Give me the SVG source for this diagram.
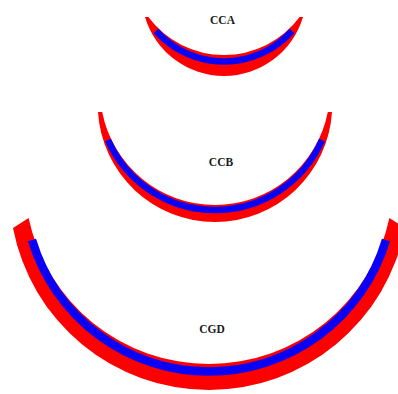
<svg xmlns="http://www.w3.org/2000/svg" width="398" height="394" viewBox="0 0 398 394">
  <style>
    .band { fill: #ff0000; stroke: none; }
    .core { fill: none; stroke: #0a00f5; stroke-linecap: butt; }
    .lbl { font-family: "Liberation Serif", "Times New Roman", serif; font-weight: bold; font-size: 11.5px; fill: #1a1a1a; text-anchor: middle; }
  </style>
  <rect width="398" height="394" fill="#ffffff"/>
  <g id="CCA">
    <path class="band" d="M145,17 A82.4,82.4 0 0 0 224,76 A82.4,82.4 0 0 0 303,17 L299.6,17 A94.2,94.2 0 0 1 224,55 A94.2,94.2 0 0 1 148.4,17 Z"/>
    <path class="core" stroke-width="6.5" d="M156,31 A91.1,91.1 0 0 0 224,61.5 A91.1,91.1 0 0 0 292,31"/>
    <text class="lbl" x="222.5" y="23.5">CCA</text>
  </g>
  <g id="CCB">
    <path class="band" d="M98,112 A117.2,117.2 0 0 0 215,222 A117.2,117.2 0 0 0 332,112 L327.8,112 A115.1,115.1 0 0 1 215,205 A115.1,115.1 0 0 1 102.2,112 Z"/>
    <path class="core" stroke-width="6.5" d="M108,140 A116.8,116.8 0 0 0 215,210 A116.8,116.8 0 0 0 322,140"/>
    <text class="lbl" x="221" y="166">CCB</text>
  </g>
  <g id="CGD">
    <path class="band" d="M13,228 A199.6,199.6 0 0 0 209,390 A199.6,199.6 0 0 0 405,228 L389.4,218 A184.5,184.5 0 0 1 209,364 A184.5,184.5 0 0 1 28.6,218 Z"/>
    <path class="core" stroke-width="8.5" d="M32,240 A184.9,184.9 0 0 0 209,371.5 A184.9,184.9 0 0 0 386,240"/>
    <text class="lbl" x="212" y="333">CGD</text>
  </g>
  <g id="connectors"/>
</svg>
